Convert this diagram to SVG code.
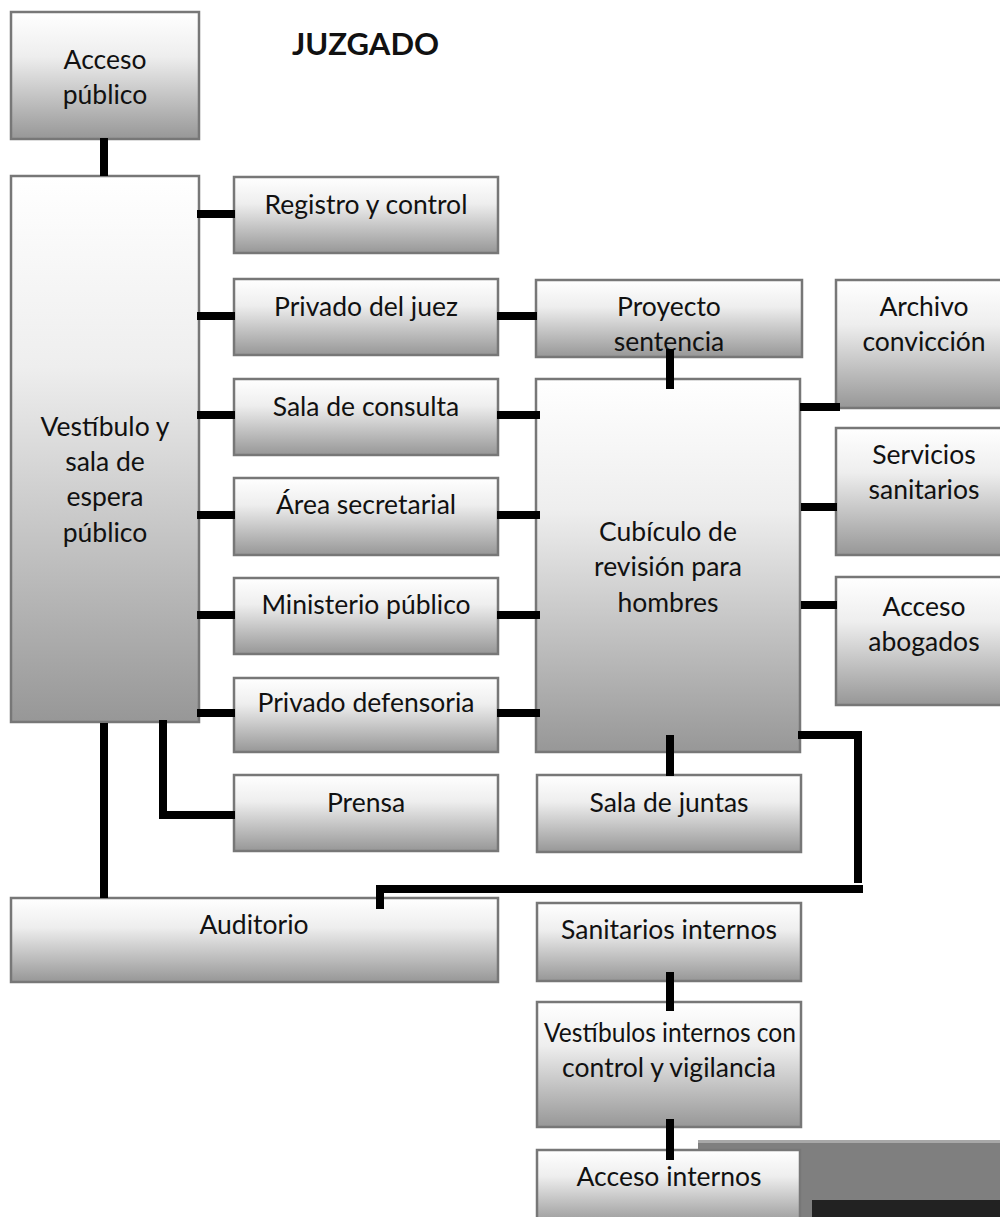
<svg xmlns="http://www.w3.org/2000/svg" width="1000" height="1217" viewBox="0 0 1000 1217">
  <defs>
    <linearGradient id="boxFill" x1="0" y1="0" x2="0" y2="1">
      <stop offset="0" stop-color="#ffffff"/>
      <stop offset="0.35" stop-color="#eeeeee"/>
      <stop offset="1" stop-color="#979797"/>
    </linearGradient>
    <style>
      .box { fill: url(#boxFill); stroke: #777777; stroke-width: 2.5; }
      .lbl { font-family: Lato, "Open Sans", "Liberation Sans", sans-serif; font-size: 26.5px; fill: #111111; text-anchor: middle; }
      .title { font-family: Lato, "Liberation Sans", sans-serif; font-size: 31px; font-weight: bold; fill: #111111; }
      .wire { fill: none; stroke: #000000; stroke-width: 8; stroke-linejoin: miter; }
    </style>
  </defs>
  <rect width="1000" height="1217" fill="#ffffff"/>

  <text class="title" x="292" y="55">JUZGADO</text>

  <!-- panel in the lower right corner -->
  <g id="corner-panel">
    <rect x="698" y="1140" width="302" height="77" fill="#7f7f7f"/>
    <rect x="698" y="1140" width="302" height="3" fill="#a8a8a8"/>
    <rect x="812" y="1200" width="188" height="17" fill="#222222"/>
  </g>

  <g id="acceso-publico">
    <rect class="box" x="11" y="12" width="188" height="127"/>
    <text class="lbl" x="105" y="69">Acceso</text>
    <text class="lbl" x="105" y="104">público</text>
  </g>

  <g id="vestibulo">
    <rect class="box" x="11" y="176" width="188" height="546"/>
    <text class="lbl" x="105" y="436">Vestíbulo y</text>
    <text class="lbl" x="105" y="471">sala de</text>
    <text class="lbl" x="105" y="506">espera</text>
    <text class="lbl" x="105" y="542">público</text>
  </g>

  <g id="registro">
    <rect class="box" x="234" y="177" width="264" height="76"/>
    <text class="lbl" x="366" y="214">Registro y control</text>
  </g>

  <g id="privado-juez">
    <rect class="box" x="234" y="279" width="264" height="76"/>
    <text class="lbl" x="366" y="316">Privado del juez</text>
  </g>

  <g id="sala-consulta">
    <rect class="box" x="234" y="379" width="264" height="76"/>
    <text class="lbl" x="366" y="416">Sala de consulta</text>
  </g>

  <g id="area-secretarial">
    <rect class="box" x="234" y="478" width="264" height="77"/>
    <text class="lbl" x="366" y="514">Área secretarial</text>
  </g>

  <g id="ministerio">
    <rect class="box" x="234" y="578" width="264" height="76"/>
    <text class="lbl" x="366" y="614">Ministerio público</text>
  </g>

  <g id="privado-defensoria">
    <rect class="box" x="234" y="678" width="264" height="74"/>
    <text class="lbl" x="366" y="712">Privado defensoria</text>
  </g>

  <g id="prensa">
    <rect class="box" x="234" y="775" width="264" height="76"/>
    <text class="lbl" x="366" y="812">Prensa</text>
  </g>

  <g id="auditorio">
    <rect class="box" x="11" y="898" width="487" height="84"/>
    <text class="lbl" x="254" y="934">Auditorio</text>
  </g>

  <g id="proyecto-sentencia">
    <rect class="box" x="536" y="280" width="266" height="77"/>
    <text class="lbl" x="669" y="316">Proyecto</text>
    <text class="lbl" x="669" y="351">sentencia</text>
  </g>

  <g id="cubiculo">
    <rect class="box" x="536" y="379" width="264" height="373"/>
    <text class="lbl" x="668" y="541">Cubículo de</text>
    <text class="lbl" x="668" y="576">revisión para</text>
    <text class="lbl" x="668" y="612">hombres</text>
  </g>

  <g id="archivo">
    <rect class="box" x="836" y="280" width="170" height="128"/>
    <text class="lbl" x="924" y="316">Archivo</text>
    <text class="lbl" x="924" y="351">convicción</text>
  </g>

  <g id="servicios">
    <rect class="box" x="836" y="428" width="170" height="127"/>
    <text class="lbl" x="924" y="464">Servicios</text>
    <text class="lbl" x="924" y="499">sanitarios</text>
  </g>

  <g id="acceso-abogados">
    <rect class="box" x="836" y="577" width="170" height="128"/>
    <text class="lbl" x="924" y="616">Acceso</text>
    <text class="lbl" x="924" y="651">abogados</text>
  </g>

  <g id="sala-juntas">
    <rect class="box" x="537" y="775" width="264" height="77"/>
    <text class="lbl" x="669" y="812">Sala de juntas</text>
  </g>

  <g id="sanitarios-internos">
    <rect class="box" x="537" y="903" width="264" height="78"/>
    <text class="lbl" x="669" y="939">Sanitarios internos</text>
  </g>

  <g id="vestibulos-internos">
    <rect class="box" x="537" y="1002" width="264" height="125"/>
    <text class="lbl" x="670" y="1042" textLength="252" lengthAdjust="spacingAndGlyphs">Vestíbulos internos con</text>
    <text class="lbl" x="669" y="1077">control y vigilancia</text>
  </g>

  <g id="acceso-internos">
    <rect class="box" x="537" y="1150" width="263" height="75"/>
    <text class="lbl" x="669" y="1186">Acceso internos</text>
  </g>

  <!-- connectors, drawn over the box edges -->
  <g id="connectors">
    <path class="wire" d="M104 138 V176"/>
    <path class="wire" d="M197 214 H235"/>
    <path class="wire" d="M197 316 H235"/>
    <path class="wire" d="M197 415 H235"/>
    <path class="wire" d="M197 515 H235"/>
    <path class="wire" d="M197 615 H235"/>
    <path class="wire" d="M197 713 H235"/>
    <path class="wire" d="M163 720 V815 H235"/>
    <path class="wire" d="M104 723 V898"/>
    <path class="wire" d="M497 316 H537"/>
    <path class="wire" d="M497 415 H540"/>
    <path class="wire" d="M497 515 H540"/>
    <path class="wire" d="M497 615 H540"/>
    <path class="wire" d="M497 713 H540"/>
    <path class="wire" d="M670 349 V389"/>
    <path class="wire" d="M800 407 H840"/>
    <path class="wire" d="M801 507 H837"/>
    <path class="wire" d="M801 605 H837"/>
    <path class="wire" d="M670 735 V776"/>
    <path class="wire" d="M798 735 H858 V883"/>
    <path class="wire" d="M863 889 H380 V909"/>
    <path class="wire" d="M670 972 V1011"/>
    <path class="wire" d="M670 1119 V1160"/>
  </g>
</svg>
